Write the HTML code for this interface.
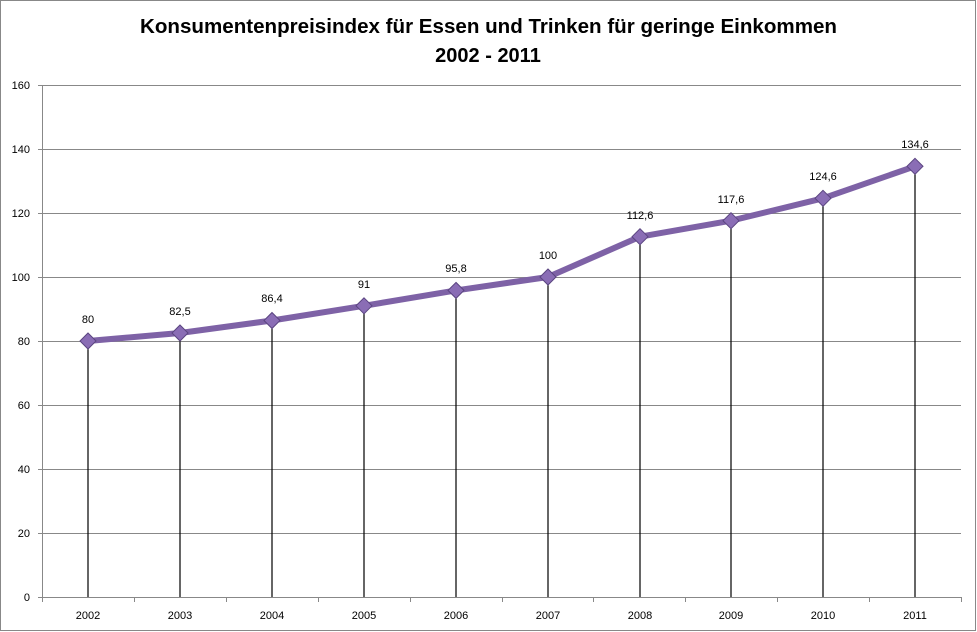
<!DOCTYPE html>
<html><head><meta charset="utf-8"><style>body{margin:0;background:#fff}svg{display:block}</style></head>
<body>
<svg width="977" height="632" viewBox="0 0 977 632" xmlns="http://www.w3.org/2000/svg" font-family="Liberation Sans, sans-serif">
<rect x="0.5" y="0.5" width="975" height="630" fill="#fff" stroke="#888"/>
<text x="140" y="33" font-size="20" font-weight="bold" textLength="697" lengthAdjust="spacingAndGlyphs">Konsumentenpreisindex für Essen und Trinken für geringe Einkommen</text>
<text x="488" y="62" text-anchor="middle" font-size="20" font-weight="bold">2002 - 2011</text>
<g stroke="#888" stroke-width="1">
<line x1="42" y1="85.5" x2="961" y2="85.5"/>
<line x1="42" y1="149.5" x2="961" y2="149.5"/>
<line x1="42" y1="213.5" x2="961" y2="213.5"/>
<line x1="42" y1="277.5" x2="961" y2="277.5"/>
<line x1="42" y1="341.5" x2="961" y2="341.5"/>
<line x1="42" y1="405.5" x2="961" y2="405.5"/>
<line x1="42" y1="469.5" x2="961" y2="469.5"/>
<line x1="42" y1="533.5" x2="961" y2="533.5"/>
<line x1="42" y1="597.5" x2="961" y2="597.5"/>
<line x1="42.5" y1="85" x2="42.5" y2="597"/>
<path d="M38 85.5h4M38 149.5h4M38 213.5h4M38 277.5h4M38 341.5h4M38 405.5h4M38 469.5h4M38 533.5h4M38 597.5h4"/>
<path d="M42.5 597v5M134.5 597v5M226.5 597v5M318.5 597v5M410.5 597v5M502.5 597v5M593.5 597v5M685.5 597v5M777.5 597v5M869.5 597v5M961.5 597v5"/>
</g>
<g font-size="11" text-anchor="end" fill="#000">
<text x="30" y="89">160</text><text x="30" y="153">140</text><text x="30" y="217">120</text><text x="30" y="281">100</text>
<text x="30" y="345">80</text><text x="30" y="409">60</text><text x="30" y="473">40</text><text x="30" y="537">20</text><text x="30" y="601">0</text>
</g>
<g font-size="11" text-anchor="middle">
<text x="88" y="619">2002</text><text x="180" y="619">2003</text><text x="272" y="619">2004</text><text x="364" y="619">2005</text><text x="456" y="619">2006</text>
<text x="548" y="619">2007</text><text x="640" y="619">2008</text><text x="731" y="619">2009</text><text x="823" y="619">2010</text><text x="915" y="619">2011</text>
</g>
<g stroke="#000" stroke-width="1.2">
<line x1="88" y1="341" x2="88" y2="597"/><line x1="180" y1="333" x2="180" y2="597"/><line x1="272" y1="320.5" x2="272" y2="597"/>
<line x1="364" y1="305.8" x2="364" y2="597"/><line x1="456" y1="290.4" x2="456" y2="597"/><line x1="548" y1="277" x2="548" y2="597"/>
<line x1="640" y1="236.7" x2="640" y2="597"/><line x1="731" y1="220.7" x2="731" y2="597"/><line x1="823" y1="198.3" x2="823" y2="597"/>
<line x1="915" y1="166.3" x2="915" y2="597"/>
</g>
<polyline fill="none" stroke="#7e62a6" stroke-width="6" stroke-linejoin="round" points="88,341 180,333 272,320.5 364,305.8 456,290.4 548,277 640,236.7 731,220.7 823,198.3 915,166.3"/>
<g fill="#8a6db5" stroke="#5a4480" stroke-width="1">
<path d="M88 333l8 8-8 8-8-8z"/><path d="M180 325l8 8-8 8-8-8z"/><path d="M272 312.5l8 8-8 8-8-8z"/>
<path d="M364 297.8l8 8-8 8-8-8z"/><path d="M456 282.4l8 8-8 8-8-8z"/><path d="M548 269l8 8-8 8-8-8z"/>
<path d="M640 228.7l8 8-8 8-8-8z"/><path d="M731 212.7l8 8-8 8-8-8z"/><path d="M823 190.3l8 8-8 8-8-8z"/>
<path d="M915 158.3l8 8-8 8-8-8z"/>
</g>
<g font-size="11" text-anchor="middle">
<text x="88" y="323">80</text><text x="180" y="315">82,5</text><text x="272" y="302">86,4</text><text x="364" y="288">91</text>
<text x="456" y="272">95,8</text><text x="548" y="259">100</text><text x="640" y="219">112,6</text><text x="731" y="203">117,6</text>
<text x="823" y="180">124,6</text><text x="915" y="148">134,6</text>
</g>
</svg>
</body></html>
